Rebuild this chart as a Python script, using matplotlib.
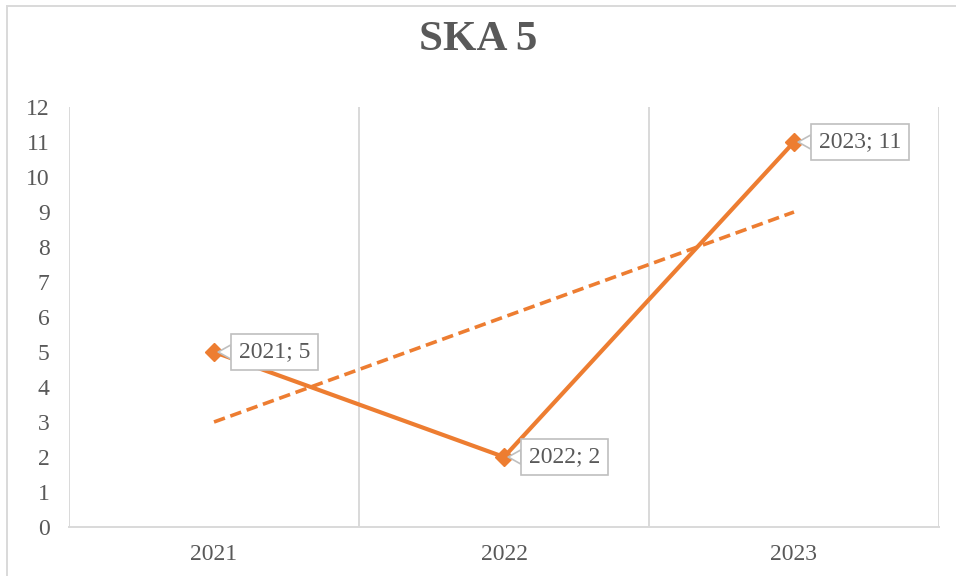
import numpy as np
import matplotlib.pyplot as plt
from matplotlib.patches import Rectangle

years = ["2021", "2022", "2023"]
values = [5, 2, 11]
title = "SKA 5"

orange = "#ED7D31"
grey_txt = "#595959"
grid_c = "#D9D9D9"

plt.rcParams["font.family"] = ["Liberation Serif", "DejaVu Serif"]

fig = plt.figure(figsize=(9.56, 5.76), dpi=100)
ax = fig.add_axes([0.0722, 0.0851, 0.9100, 0.7291])

x = np.arange(len(years))

# trendline (linear fit of the series)
k, b = np.polyfit(x, values, 1)
ax.plot(x, k * x + b, color=orange, lw=2.6, ls=(0, (3.2, 1.6)), zorder=2)

ax.plot(x, values, color=orange, lw=3, marker="D", ms=9, zorder=3)

for xi, v, yr in zip(x, values, years):
    ax.annotate(f"{yr}; {v}", xy=(xi, v), xytext=(18, 0), textcoords="offset points",
                ha="left", va="center", fontsize=17, color=grey_txt,
                bbox=dict(boxstyle="square,pad=0.32", fc="white", ec="#BFBFBF", lw=1.2),
                arrowprops=dict(arrowstyle="wedge,tail_width=0.6,shrink_factor=0.5",
                                fc="white", ec="#BFBFBF", lw=1.2, shrinkA=0, shrinkB=3),
                zorder=4)

ax.set_xlim(-0.5, 2.5)
ax.set_ylim(0, 12)
ax.set_yticks(range(0, 13))
ax.set_xticks(x)
ax.set_xticklabels(years)

for gx in [-0.5, 0.5, 1.5, 2.5]:
    ax.axvline(gx, color=grid_c, lw=1.4, zorder=1)

for s in ["top", "right", "left"]:
    ax.spines[s].set_visible(False)
ax.spines["bottom"].set_color(grid_c)
ax.spines["bottom"].set_linewidth(1.4)

ax.tick_params(axis="y", length=0, pad=14, labelsize=17, labelcolor=grey_txt)
ax.tick_params(axis="x", length=0, pad=12, labelsize=17, labelcolor=grey_txt)

fig.text(0.5, 0.93, title, ha="center", va="center", fontsize=31,
         fontweight="bold", color=grey_txt)

# chart frame
fig.patches.append(Rectangle((7 / 956, -0.1), 1.1, 1 - 6 / 576 + 0.1,
                             transform=fig.transFigure, fill=False,
                             ec=grid_c, lw=1.4))

fig.savefig("out.png", dpi=100)
